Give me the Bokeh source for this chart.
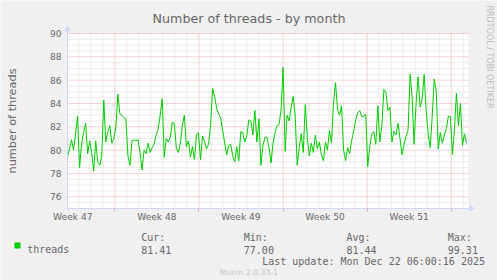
import math
from bokeh.plotting import figure
from bokeh.models import (LinearAxis, FixedTicker, Label, Arrow, NormalHead,
                          Range1d, ColumnDataSource)
from bokeh.embed import file_html
from bokeh.resources import INLINE

# ---------------- data ----------------
title_text = "Number of threads - by month"
y_label = "number of threads"
series_name = "threads"
week_labels = ["Week 47", "Week 48", "Week 49", "Week 50", "Week 51"]
week_starts = [7, 14, 21, 28, 35]          # days since Mon Nov 17 00:00
y_ticks = [76, 78, 80, 82, 84, 86, 88, 90]
view_start_day = 3.06
view_end_day = 36.44
threads = [
    79.4, 80.1, 80.9, 80.0, 81.4, 82.9, 78.5, 80.6, 81.5, 82.3,
    79.7, 80.8, 79.8, 78.2, 80.8, 79.0, 78.7, 79.5, 84.3, 80.7,
    81.6, 82.1, 80.6, 81.0, 82.0, 84.8, 83.1, 83.0, 82.8, 82.7,
    79.5, 78.7, 80.8, 80.9,
    80.8, 80.9, 79.8, 78.3, 80.0, 79.7, 80.6, 79.8, 80.2, 80.5,
    81.3, 81.8, 83.0, 84.4, 79.4, 81.0, 80.7, 81.1, 82.4, 82.3,
    80.2, 79.8, 80.6, 82.1, 83.0, 80.3, 80.8, 79.4, 80.3, 79.2,
    81.3, 81.5, 79.2,
    81.2, 80.8, 80.1, 80.5, 82.1, 85.3, 84.6, 83.6, 83.1, 82.8,
    81.7, 80.6, 79.6, 80.4, 80.5, 79.5, 79.0, 80.3, 79.1, 81.6,
    81.5, 80.7, 81.3, 82.6, 82.5, 81.3, 83.4, 80.7, 82.7, 78.7,
    80.4, 81.1, 81.1,
    80.2, 78.9, 80.6, 81.5, 82.1, 82.2, 83.5, 87.1, 79.9, 83.0,
    82.5, 83.7, 84.6, 82.9, 78.7, 80.2, 81.4, 79.8, 83.9, 81.1,
    79.5, 80.6, 79.8, 81.3, 80.1, 80.7, 79.6, 79.1, 80.7, 80.0,
    81.7, 80.6,
    84.0, 85.8, 83.5, 83.0, 83.8, 80.0, 79.1, 80.2, 79.7, 80.8,
    81.6, 82.6, 83.2, 83.4, 82.9, 82.9, 83.1, 78.6, 80.3, 81.4,
    81.6, 80.5, 83.8, 80.7, 82.1, 85.2, 85.0, 83.4, 83.7, 80.7,
    81.6, 81.3, 82.3,
    81.0, 79.6, 80.5, 81.2, 81.7, 86.5, 84.7, 80.5, 84.0, 86.3,
    83.7, 84.4, 86.5, 83.4, 81.4, 80.2, 82.9, 86.1, 85.0, 80.1,
    81.5, 80.6, 81.3, 81.8, 82.9, 82.9, 79.6, 81.7, 84.9, 82.1,
    84.0, 80.4, 81.4, 80.6,
]
stat_names = ["Cur:", "Min:", "Avg:", "Max:"]
stat_values = ["81.41", "77.00", "81.44", "99.31"]
last_update = "Last update: Mon Dec 22 06:00:16 2025"
munin_version = "Munin 2.0.33-1"
watermark = "RRDTOOL / TOBI OETIKER"

# ---------------- layout / style ----------------
W, H = 497, 280
FL, FR, FT, FB = 67, 468, 33, 208       # pixel box of the graph area
Y0, Y1 = 75, 90
BG = "#F0F0F0"
FONT = "#666666"
AXIS = "#CFD6F8"
MAJ = "#F0A6A6"
MIN = "#D9D9D9"
GREEN = "#00CC00"
SANS = "DejaVu Sans"
MONO = "DejaVu Sans Mono"


def px2x(px):
    return view_start_day + (px - FL) * (view_end_day - view_start_day) / (FR - FL)


def py2y(py):
    return Y1 - (py - FT) * (Y1 - Y0) / (FB - FT)


n = len(threads)
step = (view_end_day - view_start_day) / n
times = [view_start_day + i * step for i in range(n)]
src = ColumnDataSource(dict(t=times, v=threads))

# the frame covers the whole canvas; the graph area is placed through the scales
p = figure(width=W, height=H, output_backend="svg", toolbar_location=None,
           x_range=Range1d(px2x(0), px2x(W)), y_range=Range1d(py2y(H), py2y(0)),
           x_axis_location=None, y_axis_location=None, min_border=0,
           background_fill_color=BG, border_fill_color=BG, outline_line_color=None)
for g in p.grid:
    g.visible = False

# white canvas of the graph
p.quad(left=[view_start_day], right=[view_end_day], bottom=[Y0], top=[Y1],
       fill_color="white", line_color=None)

# grid lines
day_ticks = [d for d in range(int(math.ceil(view_start_day)), int(view_end_day) + 1)
             if d not in week_starts]
half_ticks = [Y0 + 0.5 * k for k in range(1, int((Y1 - Y0) * 2))
              if (Y0 + 0.5 * k) not in y_ticks]
p.segment(x0=day_ticks, x1=day_ticks, y0=[Y0] * len(day_ticks), y1=[Y1] * len(day_ticks),
          line_color=MIN, line_dash="1 1", line_width=1)
p.segment(x0=[view_start_day] * len(half_ticks), x1=[view_end_day] * len(half_ticks),
          y0=half_ticks, y1=half_ticks, line_color=MIN, line_dash="1 1", line_width=1)
p.segment(x0=week_starts, x1=week_starts, y0=[Y0] * len(week_starts), y1=[Y1] * len(week_starts),
          line_color=MAJ, line_dash="1 1", line_width=1)
p.segment(x0=[view_start_day] * len(y_ticks), x1=[view_end_day] * len(y_ticks),
          y0=y_ticks, y1=y_ticks, line_color=MAJ, line_dash="1 1", line_width=1)

# data line
p.line("t", "v", source=src, line_color=GREEN, line_width=1)

# y axis
yax = LinearAxis(ticker=FixedTicker(ticks=y_ticks), fixed_location=view_start_day,
                 bounds=(Y0, Y1), axis_line_color=AXIS,
                 major_tick_line_color=None, minor_tick_line_color=None,
                 major_tick_in=0, major_tick_out=0,
                 major_label_text_font=SANS, major_label_text_font_size="9.1px",
                 major_label_text_color=FONT, major_label_standoff=6,
                 axis_label=y_label, axis_label_text_font=SANS,
                 axis_label_text_font_size="11.3px", axis_label_text_font_style="normal",
                 axis_label_text_color=FONT, axis_label_standoff=28)
p.add_layout(yax, "left")

# x axis: week boundary ticks
xax_ticks = LinearAxis(ticker=FixedTicker(ticks=week_starts), fixed_location=Y0,
                       bounds=(view_start_day, view_end_day), axis_line_color=AXIS,
                       major_tick_line_color=MAJ, major_tick_in=0, major_tick_out=3,
                       minor_tick_line_color=None,
                       major_label_overrides={w: "" for w in week_starts},
                       major_label_text_font_size="0px", major_label_standoff=0)
p.add_layout(xax_ticks, "below")
# x axis: week labels centred in each week
mids = [w - 3.5 for w in week_starts]
xax_lab = LinearAxis(ticker=FixedTicker(ticks=mids), fixed_location=Y0,
                     axis_line_color=None, major_tick_in=0, major_tick_out=0,
                     major_tick_line_color=None, minor_tick_line_color=None,
                     major_label_overrides={m: lab for m, lab in zip(mids, week_labels)},
                     major_label_text_font=SANS, major_label_text_font_size="9.1px",
                     major_label_text_color=FONT, major_label_standoff=3)
p.add_layout(xax_lab, "below")

# axis arrows
p.add_layout(Arrow(end=NormalHead(size=5, fill_color=AXIS, line_color=AXIS),
                   x_start=view_start_day, y_start=Y1, x_end=view_start_day, y_end=py2y(25.5),
                   line_color=AXIS, line_width=1))
p.add_layout(Arrow(end=NormalHead(size=5, fill_color=AXIS, line_color=AXIS),
                   x_start=view_end_day, y_start=Y0, x_end=px2x(474), y_end=Y0,
                   line_color=AXIS, line_width=1))

# title
p.add_layout(Label(x=px2x(248.5), y=py2y(18.3), text=title_text, text_align="center",
                   text_baseline="alphabetic", text_font=SANS, text_font_size="12.7px",
                   text_color=FONT))

# watermark
p.add_layout(Label(x=px2x(489), y=py2y(5), text=watermark, angle=-math.pi / 2,
                   text_align="left", text_baseline="middle", text_font=SANS,
                   text_font_size="8px", text_color="#BBBBBB"))

# legend
p.quad(left=[px2x(14)], right=[px2x(20)], top=[py2y(242)], bottom=[py2y(248)],
       fill_color=GREEN, line_color=None)
p.add_layout(Label(x=px2x(26.7), y=py2y(249.3), text=series_name, text_align="left",
                   text_baseline="alphabetic", text_font=MONO, text_font_size="10px",
                   text_color=FONT))
stat_x = [140.7, 243.3, 346.0, 447.3]
for sx, nm, val in zip(stat_x, stat_names, stat_values):
    p.add_layout(Label(x=px2x(sx), y=py2y(237), text=nm, text_align="left",
                       text_baseline="alphabetic", text_font=MONO, text_font_size="10px",
                       text_color=FONT))
    p.add_layout(Label(x=px2x(sx), y=py2y(249.3), text=val, text_align="left",
                       text_baseline="alphabetic", text_font=MONO, text_font_size="10px",
                       text_color=FONT))
p.add_layout(Label(x=px2x(261.7), y=py2y(261.3), text=last_update, text_align="left",
                   text_baseline="alphabetic", text_font=MONO, text_font_size="10px",
                   text_color=FONT))
p.add_layout(Label(x=px2x(248.5), y=py2y(271.7), text=munin_version, text_align="center",
                   text_baseline="alphabetic", text_font=SANS, text_font_size="7.7px",
                   text_color="#C4C4C4"))

open("out.html", "w").write(file_html(p, INLINE))
